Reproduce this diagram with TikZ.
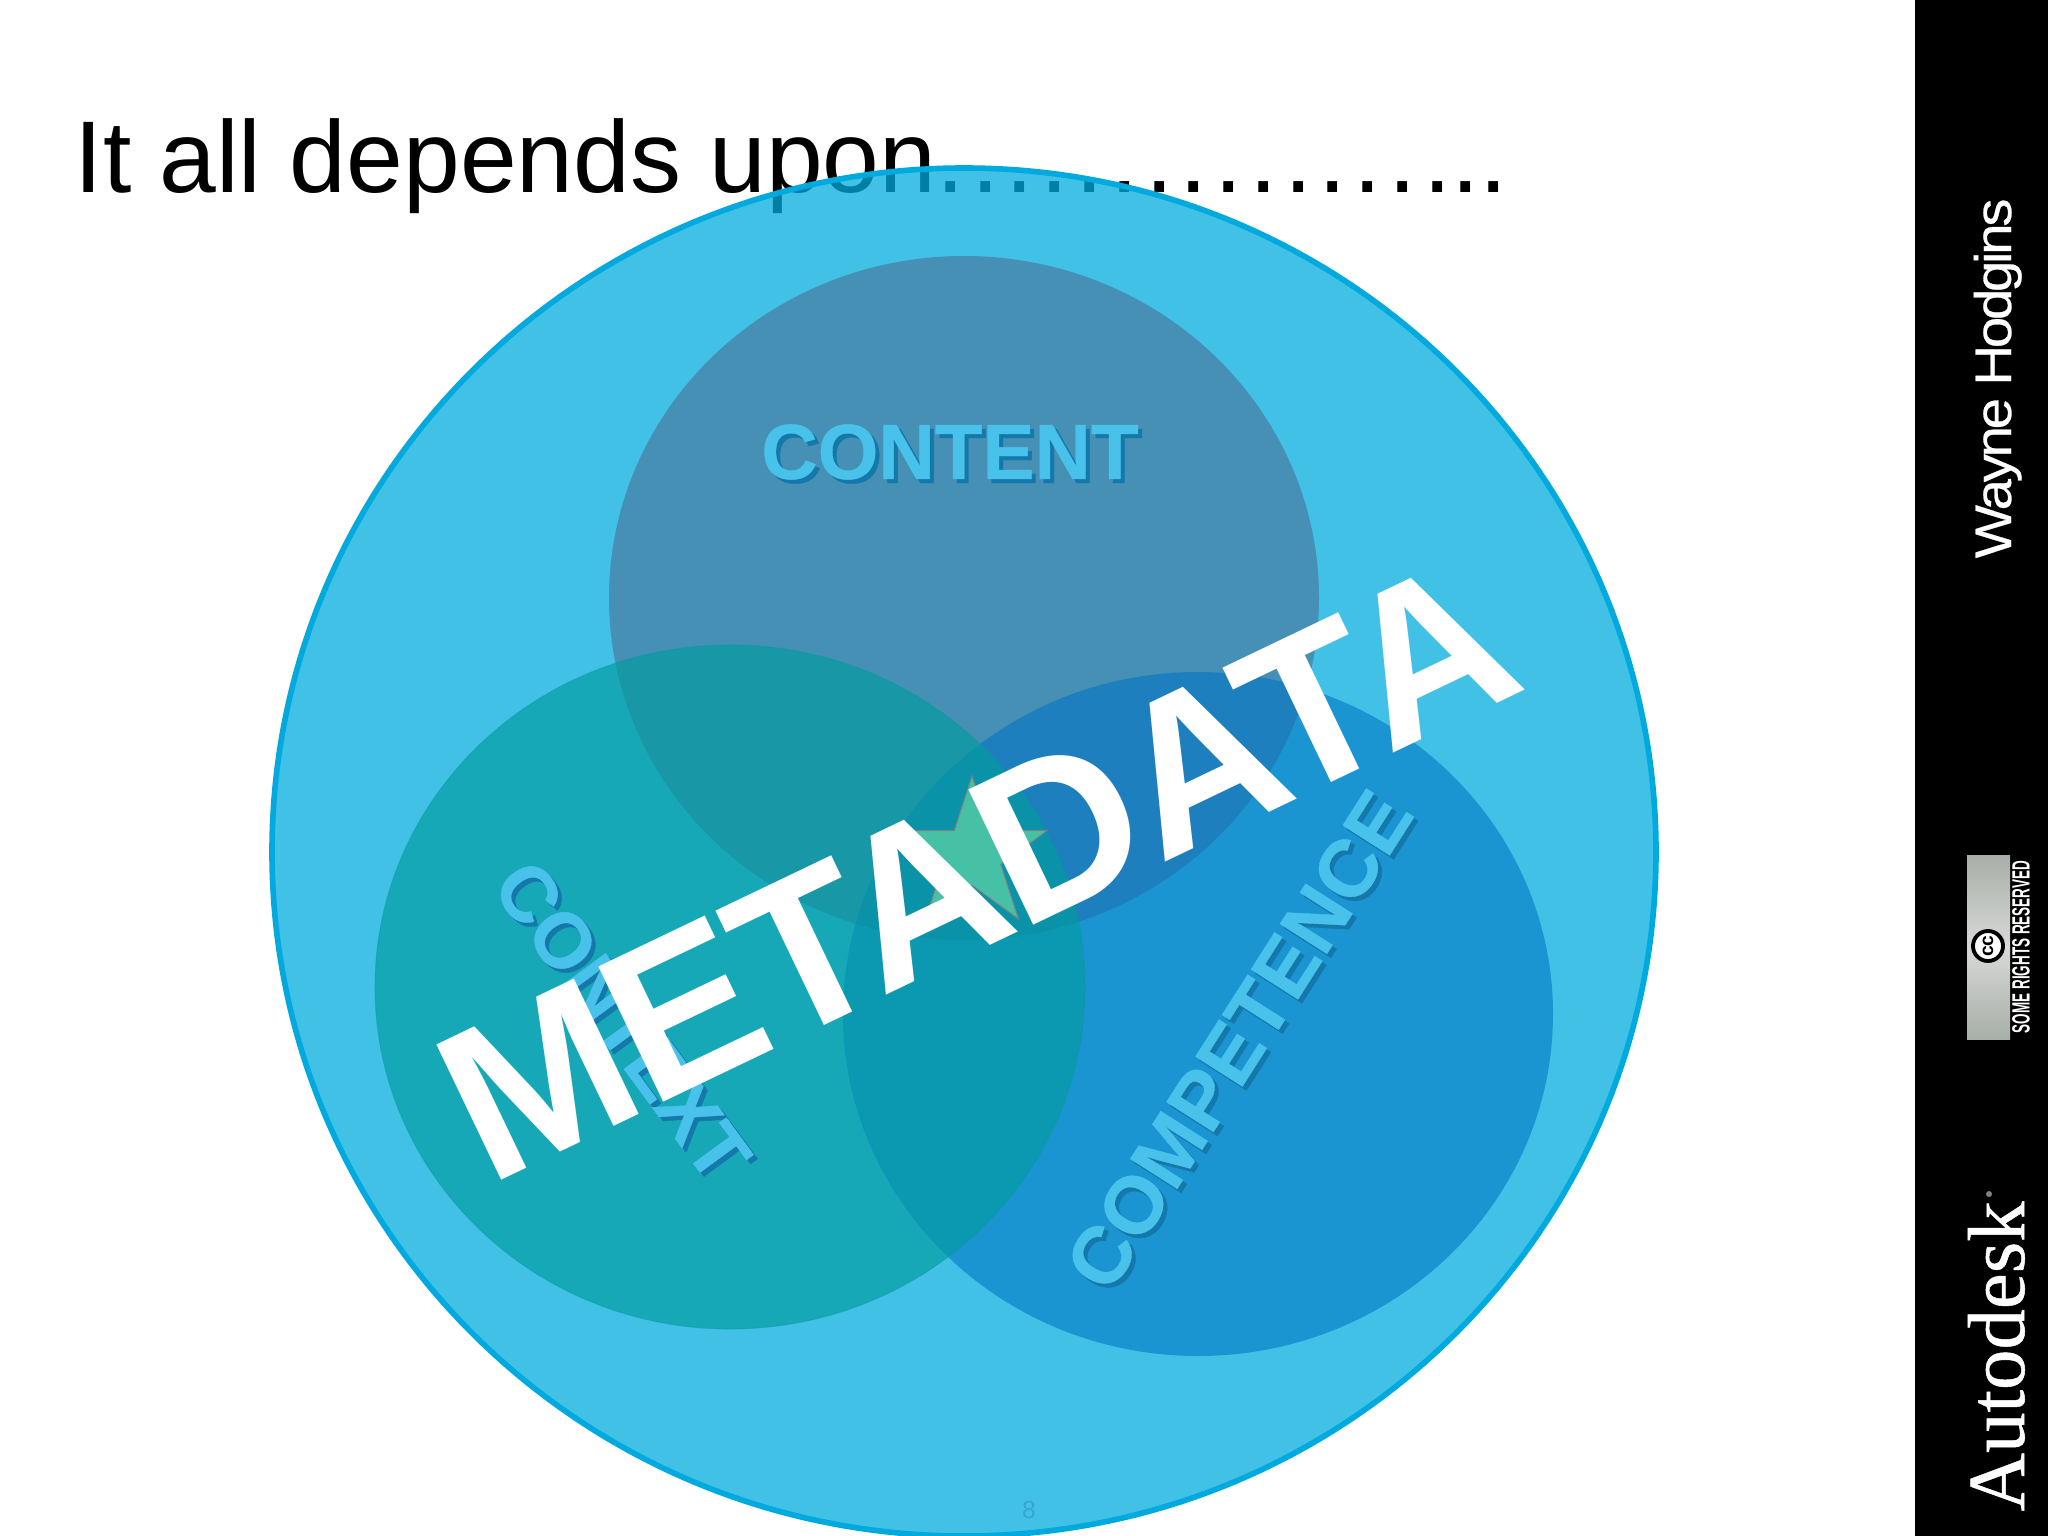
\documentclass[tikz,border=0pt]{standalone}
\usepackage{fontspec}
\setmainfont{Liberation Sans}
\newfontfamily\logofont[FakeBold=0.6]{Liberation Serif}
\newfontfamily\namefont[FakeStretch=1.1,LetterSpace=-6.5,FakeBold=0.5]{Liberation Sans}
\newfontfamily\labelfont[BoldFeatures={FakeBold=0.5}]{Liberation Sans}
\newfontfamily\bigfont[BoldFeatures={LetterSpace=-1.3}]{Liberation Sans}
\usetikzlibrary{shapes,positioning,calc}
\definecolor{outerfill}{RGB}{0,172,223}
\definecolor{outerline}{RGB}{0,169,222}
\definecolor{contentfill}{RGB}{73,122,160}
\definecolor{competencefill}{RGB}{0,117,196}
\definecolor{contextfill}{RGB}{2,156,160}
\definecolor{starfill}{RGB}{71,193,165}
\definecolor{labelfill}{RGB}{72,194,235}
\definecolor{labelshade}{RGB}{20,120,170}
\definecolor{badgeedge}{RGB}{168,174,168}
\definecolor{badgemid}{RGB}{215,217,215}
\tikzset{
    biglabel/.style={inner sep=0pt,font=\fontsize{22.2}{24}\selectfont\labelfont\bfseries,text=labelfill},
    shadelabel/.style={biglabel,text=labelshade},
    sidelabel/.style={inner sep=0pt,text=white,rotate=90}
}
\begin{document}
\begin{tikzpicture}[x=0.01cm,y=-0.01cm]
    \useasboundingbox (0,0) rectangle (2048,1536);
    \fill[white] (0,0) rectangle (2048,1536);

    % Title sits under the big circle
    \node[anchor=base west,inner sep=0pt,font=\fontsize{29}{32}\selectfont] (title) at (74,192) {It all depends upon{\addfontfeature{LetterSpace=6.3}...............}..};

    % Circles
    \fill[outerfill,fill opacity=0.74] (964,852) ellipse [x radius=692, y radius=684];
    \draw[outerline,line width=1.6pt] (964,852) ellipse [x radius=692, y radius=684];
    \fill[contentfill,fill opacity=0.7] (964,598) ellipse [x radius=355, y radius=342];
    \fill[competencefill,fill opacity=0.58] (1198,1014) ellipse [x radius=355, y radius=342];
    \filldraw[contextfill,fill opacity=0.67,draw opacity=0.4,line width=0.3pt] (730,987) ellipse [x radius=355, y radius=342];

    % Star in the middle
    \node[star,star points=5,star point ratio=2.618,minimum size=1.58cm,inner sep=0pt,fill=starfill,draw=gray,line width=0.3pt] (midstar) at (972,855) {};

    % Labels
    \node[shadelabel] (contentshade) at (954,456) {CONTENT};
    \node[biglabel] (content) at (950,452) {CONTENT};
    \node[shadelabel,rotate=57.5,font=\fontsize{23}{24}\selectfont\labelfont\bfseries] (competenceshade) at (1243,1044) {COMPETENCE};
    \node[biglabel,rotate=57.5,font=\fontsize{23}{24}\selectfont\labelfont\bfseries] (competence) at (1239,1040) {COMPETENCE};
    \node[shadelabel,rotate=-53.7] (contextshade) at (626,1025) {CONTEXT};
    \node[biglabel,rotate=-53.7] (context) at (622,1021) {CONTEXT};
    \node[inner sep=0pt,rotate=25.6,text=white,font=\fontsize{62}{64}\selectfont\bigfont\bfseries] (metadata) at (977,869) {METADATA};
    \node[inner sep=0pt,text={rgb,255:red,55;green,165;blue,210},font=\fontsize{7}{8}\selectfont] (pagenum) at (1029,1510) {8};

    % Black side bar
    \fill[black] (1915,0) rectangle (2048,1536);
    \node[sidelabel,anchor=base west,font=\fontsize{14.6}{16}\selectfont\namefont] (wayne) at (2011,559) {Wayne Hodgins};
    \node[sidelabel,anchor=base west,font=\fontsize{23}{24}\selectfont\logofont] (autodesk) at (2024,1512) {Autodesk};
    \node[circle,fill=gray,minimum size=0.06cm,inner sep=0pt] (regmark) at (1989,1194) {};

    % CC badge
    \shade[top color=badgeedge,bottom color=badgeedge,middle color=badgemid] (1967,855) rectangle (2010,1039);
    \node[circle,draw=black,line width=1.1pt,fill=white,minimum size=0.30cm,inner sep=0pt,rotate=90,font=\fontsize{5.5}{6}\selectfont\bfseries] (ccmark) at (1988,946) {cc};
    \node[sidelabel,font=\fontsize{7.1}{8}\selectfont\bfseries] (ccrights) at (2021,947) {\scalebox{0.54}[1]{SOME RIGHTS RESERVED}};
\end{tikzpicture}
\end{document}
